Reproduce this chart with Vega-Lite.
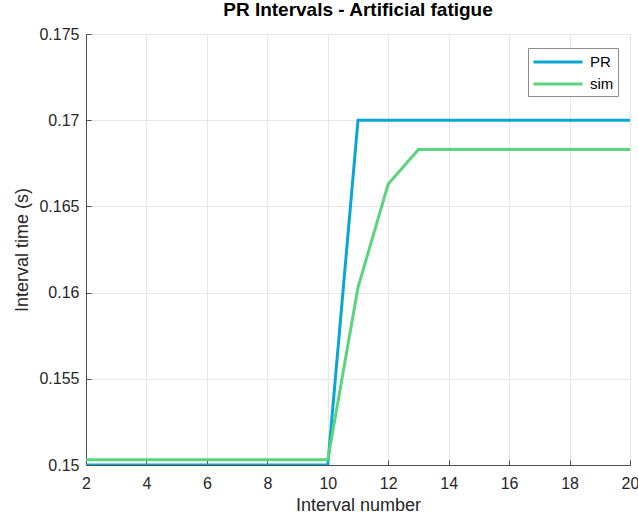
{
  "$schema": "https://vega.github.io/schema/vega-lite/v6.json",
  "autosize": "none",
  "width": 544,
  "height": 431,
  "padding": {"left": 86, "top": 34, "right": 8, "bottom": 50},
  "background": "white",
  "title": {
    "text": "PR Intervals - Artificial fatigue",
    "font": "Liberation Sans",
    "fontSize": 19,
    "fontWeight": "bold",
    "color": "#000000",
    "anchor": "middle",
    "offset": 6
  },
  "config": {
    "font": "Liberation Sans",
    "view": {"stroke": "#e3e3e3", "strokeWidth": 1},
    "axis": {
      "labelFont": "Liberation Sans",
      "labelFontSize": 16,
      "labelColor": "#262626",
      "titleFont": "Liberation Sans",
      "titleFontSize": 18,
      "titleFontWeight": "normal",
      "titleColor": "#262626",
      "domainColor": "#4d4d4d",
      "tickColor": "#4d4d4d",
      "tickSize": -5,
      "gridColor": "#e6e6e6",
      "gridOpacity": 1
    }
  },
  "data": {
    "values": [
      {"interval": 2, "series": "PR", "time": 0.15},
      {"interval": 3, "series": "PR", "time": 0.15},
      {"interval": 4, "series": "PR", "time": 0.15},
      {"interval": 5, "series": "PR", "time": 0.15},
      {"interval": 6, "series": "PR", "time": 0.15},
      {"interval": 7, "series": "PR", "time": 0.15},
      {"interval": 8, "series": "PR", "time": 0.15},
      {"interval": 9, "series": "PR", "time": 0.15},
      {"interval": 10, "series": "PR", "time": 0.15},
      {"interval": 11, "series": "PR", "time": 0.17},
      {"interval": 12, "series": "PR", "time": 0.17},
      {"interval": 13, "series": "PR", "time": 0.17},
      {"interval": 14, "series": "PR", "time": 0.17},
      {"interval": 15, "series": "PR", "time": 0.17},
      {"interval": 16, "series": "PR", "time": 0.17},
      {"interval": 17, "series": "PR", "time": 0.17},
      {"interval": 18, "series": "PR", "time": 0.17},
      {"interval": 19, "series": "PR", "time": 0.17},
      {"interval": 20, "series": "PR", "time": 0.17},
      {"interval": 2, "series": "sim", "time": 0.1503},
      {"interval": 3, "series": "sim", "time": 0.1503},
      {"interval": 4, "series": "sim", "time": 0.1503},
      {"interval": 5, "series": "sim", "time": 0.1503},
      {"interval": 6, "series": "sim", "time": 0.1503},
      {"interval": 7, "series": "sim", "time": 0.1503},
      {"interval": 8, "series": "sim", "time": 0.1503},
      {"interval": 9, "series": "sim", "time": 0.1503},
      {"interval": 10, "series": "sim", "time": 0.1503},
      {"interval": 11, "series": "sim", "time": 0.1603},
      {"interval": 12, "series": "sim", "time": 0.1663},
      {"interval": 13, "series": "sim", "time": 0.1683},
      {"interval": 14, "series": "sim", "time": 0.1683},
      {"interval": 15, "series": "sim", "time": 0.1683},
      {"interval": 16, "series": "sim", "time": 0.1683},
      {"interval": 17, "series": "sim", "time": 0.1683},
      {"interval": 18, "series": "sim", "time": 0.1683},
      {"interval": 19, "series": "sim", "time": 0.1683},
      {"interval": 20, "series": "sim", "time": 0.1683}
    ]
  },
  "mark": {"type": "line", "strokeWidth": 3, "clip": true},
  "encoding": {
    "x": {
      "field": "interval",
      "type": "quantitative",
      "scale": {"domain": [2, 20], "nice": false, "zero": false},
      "axis": {
        "title": "Interval number",
        "values": [2, 4, 6, 8, 10, 12, 14, 16, 18, 20],
        "labelPadding": 15,
        "titlePadding": 5,
        "labelFlush": false
      }
    },
    "y": {
      "field": "time",
      "type": "quantitative",
      "scale": {"domain": [0.15, 0.175], "nice": false, "zero": false},
      "axis": {
        "title": "Interval time (s)",
        "values": [0.15, 0.155, 0.16, 0.165, 0.17, 0.175],
        "format": "~g",
        "labelPadding": 12,
        "titlePadding": 7
      }
    },
    "color": {
      "field": "series",
      "type": "nominal",
      "scale": {"domain": ["PR", "sim"], "range": ["#0aa6d6", "#5ad47e"]},
      "legend": {
        "title": null,
        "orient": "none",
        "legendX": 442,
        "legendY": 14,
        "symbolType": "M-3,0H3",
        "symbolSize": 267,
        "symbolOffset": 16,
        "symbolStrokeWidth": 3,
        "symbolFillColor": "transparent",
        "labelFont": "Liberation Sans",
        "labelFontSize": 15,
        "labelColor": "#000000",
        "labelOffset": 22,
        "strokeColor": "#8c8c8c",
        "fillColor": "white",
        "padding": 4,
        "rowPadding": 4
      }
    }
  }
}
